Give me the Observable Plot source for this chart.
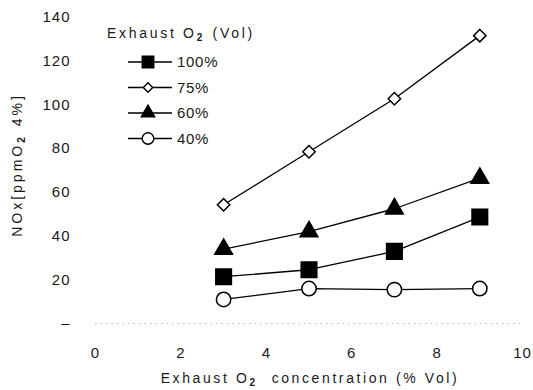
<!DOCTYPE html>
<html>
<head>
<meta charset="utf-8">
<script src="https://cdn.jsdelivr.net/npm/d3@7"></script>
<script src="https://cdn.jsdelivr.net/npm/@observablehq/plot@0.6"></script>
<style>
  body { margin: 0; background: #fff; }
  #chart svg { display: block; letter-spacing: 1px; }
</style>
</head>
<body>
<div id="chart"></div>
<script>
// Exhaust O2 concentration (% Vol) at which NOx was measured
const o2Conc = [3, 5, 7, 9];
// Series: exhaust O2 share (Vol)
const seriesNames = ["100%", "75%", "60%", "40%"];
// NOx [ppm, corrected to O2 4%]
const nox100 = [21.4, 24.6, 33, 48.7];
const nox75 = [54.3, 78.6, 102.8, 131.7];
const nox60 = [34, 42, 52.5, 66.5];
const nox40 = [11, 16, 15.5, 16];
const xTicks = [0, 2, 4, 6, 8, 10];
const yTicks = [0, 20, 40, 60, 80, 100, 120, 140];
// titles as [text, isSubscript] runs
const legendTitle = [["Exhaust O", false], ["2", true], [" (Vol)", false]];
const xLabel = [["Exhaust O", false], ["2", true], ["  concentration (% Vol)", false]];
const yLabel = [["NOx[ppmO", false], ["2", true], [" 4%]", false]];

const seriesValues = [nox100, nox75, nox60, nox40];
const rows = seriesNames.flatMap((name, i) =>
  o2Conc.map((x, j) => ({ series: name, x, y: seriesValues[i][j] }))
);

// marker style per series
const markerStyle = {
  "100%": { symbol: "square", d3: d3.symbolSquare, fill: "black", r: 8.8, lr: 6.5 },
  "75%": { symbol: "diamond2", d3: d3.symbolDiamond2, fill: "white", r: 5.6, lr: 4.2 },
  "60%": { symbol: "triangle", d3: d3.symbolTriangle, fill: "black", r: 6.6, lr: 5 },
  "40%": { symbol: "circle", d3: d3.symbolCircle, fill: "white", r: 7.2, lr: 5.8 }
};

const font = "'Liberation Sans', Arial, Helvetica, sans-serif";

const chart = Plot.plot({
  width: 533,
  height: 390,
  marginLeft: 95,
  marginRight: 11,
  marginTop: 17,
  marginBottom: 67,
  style: { fontFamily: font, fontSize: "15px", color: "#1a1a1a", background: "white" },
  x: { domain: [0, 10], ticks: xTicks, tickSize: 0, tickPadding: 24, label: null },
  y: {
    domain: [0, 140], ticks: yTicks, tickSize: 0, tickPadding: 25, label: null,
    tickFormat: d => (d === 0 ? "–" : d)
  },
  marks: [
    Plot.ruleY([0], { stroke: "#bbb", strokeWidth: 1, strokeDasharray: "1.5,4" }),
    ...seriesNames.map(name =>
      Plot.line(rows.filter(r => r.series === name), {
        x: "x", y: "y", stroke: "black", strokeWidth: 1.3
      })
    ),
    ...seriesNames.map(name =>
      Plot.dot(rows.filter(r => r.series === name), {
        x: "x", y: "y",
        symbol: markerStyle[name].symbol,
        r: markerStyle[name].r,
        fill: markerStyle[name].fill,
        stroke: "black",
        strokeWidth: 1.5
      })
    )
  ]
});

document.getElementById("chart").append(chart);

// axis titles and legend
const svg = d3.select(chart);
const textColor = "#1a1a1a";

// writes text runs, dropping subscript runs below the baseline
function writeRuns(textSel, runs, size, spacing) {
  textSel
    .style("font-family", font).style("font-size", size + "px")
    .style("letter-spacing", spacing + "px")
    .attr("fill", textColor)
    .attr("xml:space", "preserve");
  runs.forEach(([str, sub]) => {
    const t = textSel.append("tspan").text(str);
    if (sub) {
      t.attr("dy", 3).style("font-size", (size * 0.72) + "px")
        .style("font-weight", "bold").style("letter-spacing", (spacing + 1) + "px");
    } else if (textSel.selectAll("tspan").size() > 1) {
      t.attr("dy", -3);
    }
  });
  return textSel;
}

writeRuns(
  svg.append("text")
    .attr("x", 310).attr("y", 378).attr("dy", "0.35em")
    .attr("text-anchor", "middle"),
  xLabel, 14, 2.6
);

writeRuns(
  svg.append("text")
    .attr("transform", "translate(17,165) rotate(-90)")
    .attr("dy", "0.35em")
    .attr("text-anchor", "middle"),
  yLabel, 14, 3
);

const legend = svg.append("g").attr("class", "legend").attr("text-anchor", "start");
writeRuns(
  legend.append("text")
    .attr("x", 107).attr("y", 33).attr("dy", "0.35em")
    .attr("text-anchor", "start"),
  legendTitle, 14, 2.7
);

const rowY = i => 62 + i * 25.5;
seriesNames.forEach((name, i) => {
  const st = markerStyle[name];
  const g = legend.append("g").attr("transform", `translate(0,${rowY(i)})`);
  g.append("line")
    .attr("x1", 128).attr("x2", 172).attr("y1", 0).attr("y2", 0)
    .attr("stroke", "black").attr("stroke-width", 1.3);
  g.append("path")
    .attr("transform", "translate(148,0)")
    .attr("d", d3.symbol(st.d3, st.lr * st.lr * Math.PI)())
    .attr("fill", st.fill).attr("stroke", "black").attr("stroke-width", 1.4);
  g.append("text")
    .attr("x", 177).attr("y", 0).attr("dy", "0.35em")
    .attr("text-anchor", "start")
    .style("font-family", font).style("font-size", "15px").style("letter-spacing", "0.7px")
    .attr("fill", textColor)
    .text(name);
});
</script>
</body>
</html>
